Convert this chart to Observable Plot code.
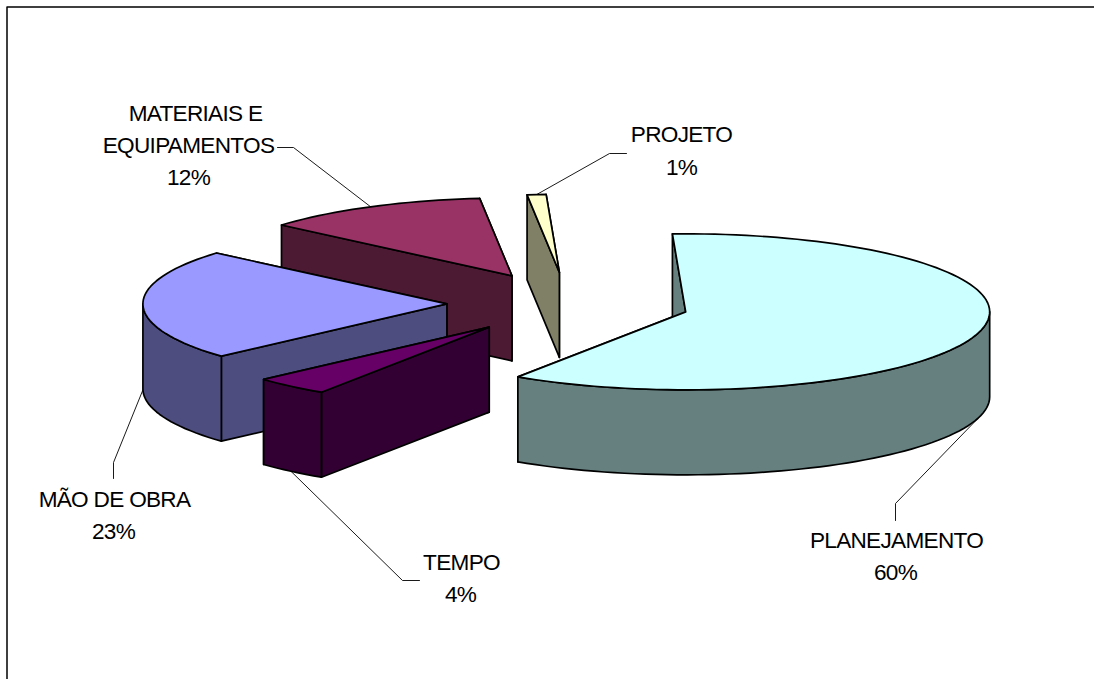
<!DOCTYPE html>
<html>
<head>
<meta charset="utf-8">
<script src="https://cdn.jsdelivr.net/npm/d3@7"></script>
<script src="https://cdn.jsdelivr.net/npm/@observablehq/plot@0.6"></script>
<style>
  html, body { margin: 0; padding: 0; background: #fff; }
  svg { display: block; }
</style>
</head>
<body>
<div id="chart"></div>
<script>
// Slices, clockwise from the first-slice angle.
const categories = ["PLANEJAMENTO", "TEMPO", "MÃO DE OBRA", "MATERIAIS E EQUIPAMENTOS", "PROJETO"];
const shares = [60, 4, 23, 12, 1];
const topColors = ["#CCFFFF", "#660066", "#9999FF", "#993366", "#FFFFCC"];
const sideColors = ["#668080", "#330033", "#4D4D80", "#4D1A33", "#808066"];

// Slices are painted back to front.
const paintOrder = ["PROJETO", "MATERIAIS E EQUIPAMENTOS", "MÃO DE OBRA", "TEMPO", "PLANEJAMENTO"];

// Pie geometry, in units of the ellipse radius (x and y scales have separate units).
const W = 1094, H = 679;
const radiusX = 304, radiusY = 78;          // pixels per unit on each scale
const originX = 568, originY = 303;         // where the undisplaced pie centre falls
const firstSliceAngle = -2.5;
const explode = 0.4;
const depth = 85 / radiusY;

// Layout helper: places annotations given in page pixels on the pie's scales.
const page = (h, v) => [(h - originX) / radiusX, (v - originY) / radiusY];
const rad = (a) => (a * Math.PI) / 180;

// Leader line elbows and ends for each slice.
const leaderPath = {
  "PLANEJAMENTO": [page(895, 503), page(895, 520)],
  "TEMPO": [page(402, 580), page(419, 580)],
  "MÃO DE OBRA": [page(113, 462), page(113, 478)],
  "MATERIAIS E EQUIPAMENTOS": [page(293, 147), page(277, 147)],
  "PROJETO": [page(609, 153), page(626, 153)]
};

// Label lines: text template plus its anchor.
const labelLines = [
  {text: "PLANEJAMENTO", at: page(896, 540)},
  {share: 0, at: page(895, 572)},
  {text: "TEMPO", at: page(461, 562)},
  {share: 1, at: page(460, 594)},
  {text: "MÃO DE OBRA", at: page(114, 499)},
  {share: 2, at: page(113, 531)},
  {text: "MATERIAIS E", at: page(195, 113)},
  {text: "EQUIPAMENTOS", at: page(188, 145)},
  {share: 3, at: page(188, 177)},
  {text: "PROJETO", at: page(681, 134)},
  {share: 4, at: page(681, 167)}
];

// Angular extents derived from the shares.
let running = firstSliceAngle;
const slices = categories.map((name, i) => {
  const a0 = running;
  const a1 = a0 + (shares[i] / d3.sum(shares)) * 360;
  running = a1;
  const mid = (a0 + a1) / 2;
  const cx = explode * Math.sin(rad(mid));
  const cy = -explode * Math.cos(rad(mid));
  const rim = (a, drop = 0) => [cx + Math.sin(rad(a)), cy - Math.cos(rad(a)) + drop];
  return {name, i, a0, a1, mid, cx, cy, rim};
});

const arc = (s, from, to, drop = 0) =>
  d3.range(0, 1.0001, 1 / Math.max(1, Math.ceil((to - from) / 2)))
    .map((t) => s.rim(from + (to - from) * t, drop));

const closed = (pts) => [...pts, pts[0]];
const lowered = (p) => [p[0], p[1] + depth];

function faces(s) {
  const apex = [s.cx, s.cy];
  const top = closed([apex, ...arc(s, s.a0, s.a1)]);
  const cutFace = (a) => {
    const r = s.rim(a);
    return closed([apex, r, lowered(r), lowered(apex)]);
  };
  const out = [
    {pts: cutFace(s.a1), fill: sideColors[s.i]},
    {pts: cutFace(s.a0), fill: sideColors[s.i]}
  ];
  // Only the part of the rim that faces the viewer gets an outer wall.
  const lo = Math.max(s.a0, 90), hi = Math.min(s.a1, 270);
  if (lo < hi) {
    const upper = arc(s, lo, hi);
    const lower = arc(s, lo, hi, depth).reverse();
    out.push({pts: closed([...upper, ...lower]), fill: sideColors[s.i]});
  }
  out.push({pts: top, fill: topColors[s.i]});
  return out;
}

const ordered = paintOrder.map((n) => slices.find((s) => s.name === n));

const sliceMarks = ordered.flatMap((s) =>
  faces(s).map((f) =>
    Plot.line(f.pts, {
      x: (d) => d[0], y: (d) => d[1],
      fill: f.fill, stroke: "#000", strokeWidth: 1.7,
      strokeLinejoin: "round", curve: "linear"
    })
  )
);

// Leader lines start on the rim at the slice's mid angle.
const leaderMarks = slices.map((s) => {
  const front = Math.cos(rad(s.mid)) < 0;
  const start = s.rim(s.mid, front ? depth : 0);
  return Plot.line([start, ...leaderPath[s.name]], {
    x: (d) => d[0], y: (d) => d[1],
    stroke: "#000", strokeWidth: 0.9, curve: "linear"
  });
});

const labelRows = labelLines.map((l) => ({
  label: l.text ?? `${shares[l.share]}%`,
  x: l.at[0],
  y: l.at[1]
}));

const frameMarks = [
  [page(6.5, 679), page(6.5, 6.5), page(1094, 6.5)]
].map((pts) =>
  Plot.line(pts, {x: (d) => d[0], y: (d) => d[1], stroke: "#000", strokeWidth: 1.5, curve: "linear"})
);

const chart = Plot.plot({
  width: W,
  height: H,
  margin: 0,
  x: {domain: [-originX / radiusX, (W - originX) / radiusX], range: [0, W], axis: null},
  y: {domain: [-originY / radiusY, (H - originY) / radiusY], range: [0, H], axis: null},
  style: {background: "#fff", letterSpacing: "-0.7px"},
  marks: [
    ...frameMarks,
    ...leaderMarks,
    ...sliceMarks,
    Plot.text(labelRows, {
      x: "x", y: "y", text: "label",
      fontFamily: "Liberation Sans, Arial, sans-serif",
      fontSize: 22.6, fill: "#000",
      textAnchor: "middle", lineAnchor: "middle"
    })
  ]
});
document.getElementById("chart").appendChild(chart);
</script>
</body>
</html>
